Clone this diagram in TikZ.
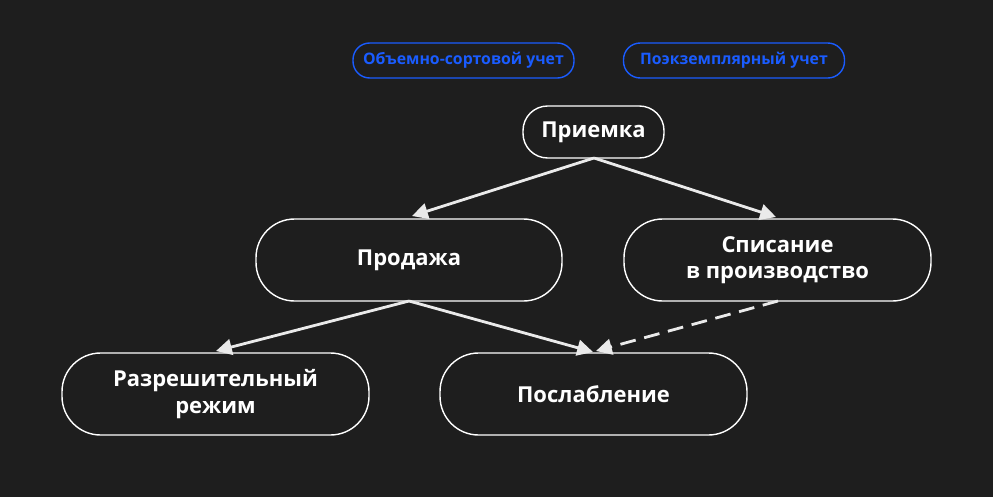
\documentclass[tikz,border=0pt]{standalone}
\usepackage{fontspec}
\setmainfont{Open Sans}
\usetikzlibrary{arrows.meta}
\definecolor{bg}{HTML}{1E1E1E}
\definecolor{tagblue}{HTML}{1A5CFF}
\definecolor{ln}{HTML}{EAEAEA}
\begin{document}
\begin{tikzpicture}[x=0.02cm,y=-0.02cm,
  box/.style={draw=white,line width=0.8pt,fill=bg,rounded corners=22pt,text=white,font=\bfseries\fontsize{12.5}{15}\selectfont,align=center,inner sep=0pt},
  tag/.style={draw=tagblue,line width=0.8pt,rounded corners=9.5pt,text=tagblue,font=\bfseries\fontsize{9}{11}\selectfont,inner sep=0pt,minimum width=221*0.02cm,minimum height=35*0.02cm},
  arr/.style={draw=ln,line width=1.6pt,-{Triangle[length=9pt,width=9pt]}}]
\fill[bg] (0,0) rectangle (993,497);
\useasboundingbox (0,0) rectangle (993,497);
\node[tag] (t1) at (463.5,60.5) {Объемно-сортовой учет};
\node[tag] (t2) at (734,60.5) {Поэкземплярный учет};
\node[box,rounded corners=14pt,minimum width=141*0.02cm,minimum height=52*0.02cm] (p) at (593.5,132) {Приемка};
\node[box,minimum width=306*0.02cm,minimum height=82*0.02cm] (s) at (409,260) {Продажа};
\node[box,minimum width=307*0.02cm,minimum height=82*0.02cm] (w) at (777.5,260) {Списание\\в производство};
\node[box,minimum width=307*0.02cm,minimum height=82*0.02cm] (r) at (215.5,394) {Разрешительный\\режим};
\node[box,minimum width=307*0.02cm,minimum height=82*0.02cm] (o) at (593.5,394) {Послабление};
\coordinate (pb) at (594,158);
\coordinate (sb) at (409,301);
\coordinate (wb) at (778,301);
\draw[arr] (pb) -- (412,216);
\draw[arr] (pb) -- (776,217);
\draw[arr] (sb) -- (216,351);
\draw[arr] (sb) -- (593,352);
\draw[arr,dashed,dash pattern=on 9pt off 5pt] (wb) -- (596,351);
\end{tikzpicture}
\end{document}
